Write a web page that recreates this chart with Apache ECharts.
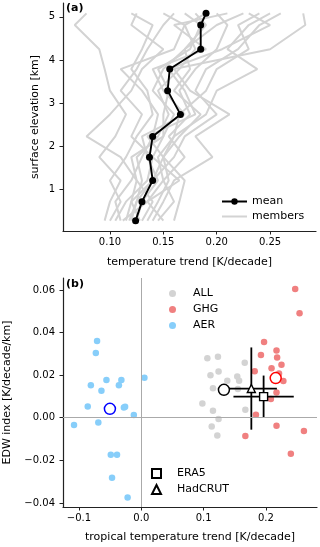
<!DOCTYPE html>
<html>
<head>
<meta charset="utf-8">
<script src="https://cdn.jsdelivr.net/npm/echarts@6/dist/echarts.min.js"></script>
<style>
  html, body { margin: 0; padding: 0; background: #fff; }
  #chart { width: 320px; height: 547px; }
</style>
</head>
<body>
<div id="chart"></div>
<script>
// (a) surface elevation levels [km] and trends [K/decade]
var levels = [0.28, 0.72, 1.21, 1.75, 2.23, 2.74, 3.29, 3.79, 4.25, 4.81, 5.08];
var meanTrend = [0.124, 0.130, 0.140, 0.137, 0.140, 0.166, 0.154, 0.156, 0.185, 0.185, 0.190];
var members = [
  [0.095, 0.100, 0.110, 0.090, 0.105, 0.115, 0.100, 0.095, 0.090, 0.067, 0.078],
  [0.115, 0.120, 0.125, 0.110, 0.078, 0.100, 0.120, 0.130, 0.150, 0.120, 0.125],
  [0.140, 0.150, 0.160, 0.196, 0.180, 0.212, 0.175, 0.160, 0.250, 0.283, 0.281],
  [0.160, 0.165, 0.170, 0.150, 0.160, 0.190, 0.200, 0.238, 0.210, 0.230, 0.250],
  [0.105, 0.115, 0.135, 0.140, 0.120, 0.130, 0.110, 0.125, 0.135, 0.150, 0.160],
  [0.120, 0.125, 0.140, 0.160, 0.170, 0.200, 0.180, 0.190, 0.220, 0.240, 0.260],
  [0.130, 0.140, 0.125, 0.120, 0.150, 0.160, 0.140, 0.150, 0.170, 0.190, 0.180],
  [0.150, 0.135, 0.150, 0.170, 0.155, 0.175, 0.165, 0.180, 0.200, 0.210, 0.200],
  [0.110, 0.105, 0.120, 0.130, 0.140, 0.145, 0.130, 0.110, 0.160, 0.170, 0.150],
  [0.125, 0.130, 0.145, 0.135, 0.130, 0.170, 0.150, 0.140, 0.190, 0.160, 0.210],
  [0.135, 0.145, 0.155, 0.150, 0.165, 0.185, 0.160, 0.175, 0.170, 0.200, 0.225],
  [0.100, 0.110, 0.100, 0.115, 0.125, 0.140, 0.135, 0.120, 0.130, 0.140, 0.120],
  [0.145, 0.160, 0.150, 0.145, 0.160, 0.165, 0.190, 0.200, 0.230, 0.220, 0.240],
  [0.118, 0.125, 0.130, 0.125, 0.145, 0.155, 0.145, 0.165, 0.180, 0.170, 0.190],
  [0.128, 0.120, 0.140, 0.150, 0.135, 0.180, 0.170, 0.155, 0.205, 0.250, 0.230],
  [0.112, 0.135, 0.165, 0.140, 0.150, 0.150, 0.155, 0.145, 0.175, 0.185, 0.170]
];
var topXTicks = [0.10, 0.15, 0.20, 0.25];
var topYTicks = [1, 2, 3, 4, 5];

// (b) tropical trend [K/decade] vs EDW index [K/decade/km]
var allX = [0.106, 0.123, 0.166, 0.124, 0.111, 0.138, 0.154, 0.157, 0.115, 0.155, 0.098, 0.115, 0.167, 0.124, 0.113, 0.122];
var allY = [0.0279, 0.0286, 0.0258, 0.0217, 0.0200, 0.0174, 0.0194, 0.0174, 0.0139, 0.0135, 0.0067, 0.0033, 0.0038, -0.0006, -0.0041, -0.0083];
var ghgX = [0.247, 0.254, 0.197, 0.217, 0.192, 0.218, 0.225, 0.209, 0.182, 0.221, 0.228, 0.217, 0.208, 0.184, 0.217, 0.261, 0.167, 0.240];
var ghgY = [0.0604, 0.0491, 0.0355, 0.0316, 0.0294, 0.0283, 0.0249, 0.0232, 0.0218, 0.0208, 0.0173, 0.0119, 0.0088, 0.0014, -0.0038, -0.0062, -0.0086, -0.0169];
var aerX = [-0.071, -0.073, -0.056, -0.032, -0.081, -0.036, -0.064, 0.005, -0.086, -0.028, -0.026, -0.012, -0.108, -0.069, -0.049, -0.039, -0.047, -0.022];
var aerY = [0.0360, 0.0304, 0.0177, 0.0177, 0.0153, 0.0152, 0.0127, 0.0188, 0.0053, 0.0048, 0.0052, 0.0013, -0.0034, -0.0022, -0.0174, -0.0174, -0.0282, -0.0374];
var groupMeanX = [0.1326, 0.2157, -0.0504];   // ALL, GHG, AER
var groupMeanY = [0.0131, 0.0186, 0.0042];
var obsNames = ['ERA5', 'HadCRUT'];
var obsX = [0.1963, 0.1766];
var obsY = [0.0099, 0.0137];
var obsXErr = [0.0484, 0.0410];
var obsYErr = [0.0099, 0.0193];
var botXTicks = [-0.1, 0.0, 0.1, 0.2];
var botYTicks = [-0.04, -0.02, 0.00, 0.02, 0.04, 0.06];

var FONT = 'DejaVu Sans';
var AX = '#222';

function pairs(xs, ys) {
  return xs.map(function (x, i) { return [x, ys[i]]; });
}
function minus(s) { return s.replace('-', '\u2212'); }

function valueAxis(gi, min, max, ticks, digits, name, gap, nameGap) {
  return {
    type: 'value', gridIndex: gi, min: min, max: max,
    name: name, nameLocation: 'middle', nameGap: nameGap, nameMoveOverlap: false,
    nameTextStyle: { fontFamily: FONT, fontSize: 11, color: '#000' },
    axisLine: { show: true, onZero: false, lineStyle: { color: AX, width: 1.2 } },
    axisTick: { show: true, length: 3.5, lineStyle: { color: AX, width: 1 }, customValues: ticks },
    axisLabel: {
      customValues: ticks, margin: gap, fontFamily: FONT, fontSize: 10, color: '#000',
      formatter: function (v) { return minus(v.toFixed(digits)); }
    },
    splitLine: { show: false }
  };
}

var series = [];
members.forEach(function (m) {
  series.push({
    name: 'members', type: 'line', xAxisIndex: 0, yAxisIndex: 0,
    data: pairs(m, levels), symbol: 'none', z: 1,
    lineStyle: { color: '#d3d3d3', width: 2 }, itemStyle: { color: '#d3d3d3' },
    animation: false
  });
});
series.push({
  name: 'mean', type: 'line', xAxisIndex: 0, yAxisIndex: 0,
  data: pairs(meanTrend, levels), symbol: 'circle', symbolSize: 7, z: 3,
  lineStyle: { color: '#000', width: 1.9 }, itemStyle: { color: '#000' },
  animation: false
});

// zero lines in (b)
series.push({
  type: 'line', xAxisIndex: 1, yAxisIndex: 1, data: [], z: 0, animation: false,
  markLine: {
    silent: true, symbol: 'none', label: { show: false }, animation: false,
    lineStyle: { color: '#aaa', width: 1, type: 'solid' },
    data: [{ xAxis: 0 }, { yAxis: 0 }]
  }
});
[['ALL', allX, allY, '#d3d3d3'], ['GHG', ghgX, ghgY, '#f08080'], ['AER', aerX, aerY, '#87cefa']].forEach(function (g) {
  series.push({
    name: g[0], type: 'scatter', xAxisIndex: 1, yAxisIndex: 1,
    data: pairs(g[1], g[2]), symbol: 'circle', symbolSize: 6.5, z: 2,
    itemStyle: { color: g[3], opacity: 1 }, animation: false
  });
});
series.push({
  type: 'custom', xAxisIndex: 1, yAxisIndex: 1, z: 4, animation: false,
  data: obsX.map(function (x, i) { return [x, obsY[i], obsXErr[i], obsYErr[i]]; }),
  encode: { x: 0, y: 1 },
  renderItem: function (params, api) {
    var x = api.value(0), y = api.value(1), ex = api.value(2), ey = api.value(3);
    var l = api.coord([x - ex, y]), r = api.coord([x + ex, y]);
    var t = api.coord([x, y + ey]), b = api.coord([x, y - ey]);
    var st = { stroke: '#000', lineWidth: 1.8 };
    return { type: 'group', children: [
      { type: 'line', shape: { x1: l[0], y1: l[1], x2: r[0], y2: r[1] }, style: st },
      { type: 'line', shape: { x1: t[0], y1: t[1], x2: b[0], y2: b[1] }, style: st }
    ] };
  }
});
['#000', '#ff0000', '#0000ff'].forEach(function (c, i) {
  series.push({
    type: 'scatter', xAxisIndex: 1, yAxisIndex: 1, z: 5, animation: false,
    data: [[groupMeanX[i], groupMeanY[i]]], symbol: 'circle', symbolSize: 11,
    itemStyle: { color: '#fff', borderColor: c, borderWidth: 1.5, opacity: 1 }
  });
});
[['rect', 8], ['triangle', 8]].forEach(function (s, i) {
  series.push({
    name: obsNames[i], type: 'scatter', xAxisIndex: 1, yAxisIndex: 1, z: 6, animation: false,
    data: [[obsX[i], obsY[i]]], symbol: s[0], symbolSize: s[1],
    itemStyle: { color: '#fff', borderColor: '#000', borderWidth: 1.4, opacity: 1 }
  });
});

var legendText = { fontFamily: FONT, fontSize: 11, color: '#000' };
var option = {
  animation: false,
  textStyle: { fontFamily: FONT },
  title: [
    { text: '(a)', left: 66, top: 3, padding: 0, textStyle: { fontFamily: FONT, fontSize: 11, fontWeight: 'bold', color: '#000' } },
    { text: '(b)', left: 66, top: 279, padding: 0, textStyle: { fontFamily: FONT, fontSize: 11, fontWeight: 'bold', color: '#000' } }
  ],
  legend: [
    { data: ['mean', { name: 'members', itemStyle: { opacity: 0 } }],
      orient: 'vertical', left: 221, top: 196, padding: 0,
      itemWidth: 25, itemHeight: 8, itemGap: 4, textStyle: legendText, selectedMode: false },
    { data: ['ALL', 'GHG', 'AER'], orient: 'vertical', left: 169, top: 288, padding: 0,
      itemWidth: 7, itemHeight: 7, itemGap: 5, selectedMode: false,
      textStyle: Object.assign({ padding: [0, 0, 0, 12] }, legendText) },
    { data: ['ERA5', 'HadCRUT'], orient: 'vertical', left: 151, top: 468, padding: 0,
      itemWidth: 9, itemHeight: 9, itemGap: 5, selectedMode: false,
      textStyle: Object.assign({ padding: [0, 0, 0, 11] }, legendText) }
  ],
  grid: [
    { left: 63, top: 3, width: 253, height: 228, outerBoundsMode: 'none' },
    { left: 63, top: 278, width: 254, height: 229, outerBoundsMode: 'none' }
  ],
  xAxis: [
    valueAxis(0, 0.056, 0.293, topXTicks, 2, 'temperature trend [K/decade]', 6, 26),
    valueAxis(1, -0.1257, 0.282, botXTicks, 1, 'tropical temperature trend [K/decade]', 6, 25)
  ],
  yAxis: [
    valueAxis(0, 0.04, 5.32, topYTicks, 0, 'surface elevation [km]', 8, 22),
    valueAxis(1, -0.0419, 0.0656, botYTicks, 2, 'EDW index [K/decade/km]', 8, 50)
  ],
  series: series
};

var chart = echarts.init(document.getElementById('chart'), null, { renderer: 'canvas' });
chart.setOption(option);
</script>
</body>
</html>
